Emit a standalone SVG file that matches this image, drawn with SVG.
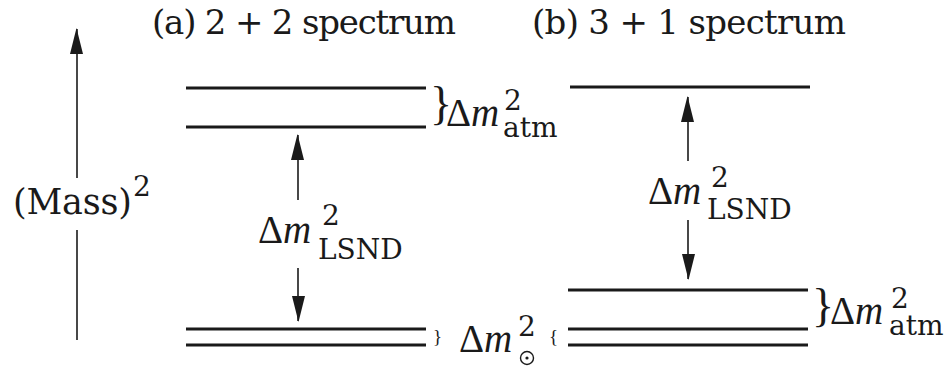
<svg xmlns="http://www.w3.org/2000/svg" width="948" height="368" viewBox="0 0 948 368">
<style>
text{font-family:"DejaVu Serif","Liberation Serif",serif;fill:#1a1a1a}
.t{font-size:34px}
.ms{font-size:35px}
.big{font-family:"Liberation Serif","DejaVu Serif",serif;font-size:39px}
.sm{font-size:28px}
.it{font-style:italic}
.lvl{stroke:#1a1a1a;stroke-width:3}
.ax{stroke:#1a1a1a;stroke-width:1.6;fill:none}
.br{font-family:"Liberation Serif",serif;font-size:46px}
.brs{font-family:"Liberation Serif",serif;font-size:19px}
</style>
<defs>
<marker id="ah" markerUnits="userSpaceOnUse" markerWidth="26" markerHeight="14" refX="25" refY="7" orient="auto">
<path d="M0,0 L26,6.5 L0,13 Z" fill="#1a1a1a"/>
</marker>
</defs>
<g id="titles">
<text class="t" x="152" y="34" textLength="304">(a) 2 + 2 spectrum</text>
<text class="t" x="532" y="34" textLength="314">(b) 3 + 1 spectrum</text>
</g>
<g id="axis">
<line class="ax" x1="77" y1="178" x2="77" y2="29" marker-end="url(#ah)"/>
<line class="ax" x1="77" y1="230" x2="77" y2="340"/>
<text class="ms" x="13" y="214" textLength="119">(Mass)</text>
<text class="sm" x="133" y="196">2</text>
</g>
<g id="spectrum-a">
<line class="lvl" x1="186" y1="88" x2="426" y2="88"/>
<line class="lvl" x1="186" y1="127" x2="426" y2="127"/>
<line class="lvl" x1="186" y1="329" x2="426" y2="329"/>
<line class="lvl" x1="186" y1="345" x2="426" y2="345"/>
<text class="br" x="430" y="119">}</text>
<text class="big" x="446" y="126">Δ<tspan class="it">m</tspan></text>
<text class="sm" x="504" y="110">2</text>
<text class="sm" x="503" y="137">atm</text>
<text class="big" x="258" y="243">Δ<tspan class="it">m</tspan></text>
<text class="sm" x="322" y="225">2</text>
<text class="sm" x="318" y="259">LSND</text>
<text class="brs" x="433" y="343">}</text>
</g>
<g id="solar-label">
<text class="big" x="459" y="352">Δ<tspan class="it">m</tspan></text>
<text class="sm" x="518" y="336">2</text>
<circle cx="527" cy="358" r="6.5" fill="none" stroke="#1a1a1a" stroke-width="1.4"/>
<circle cx="527" cy="358" r="1.6" fill="#1a1a1a"/>
</g>
<g id="spectrum-b">
<line class="lvl" x1="570" y1="87" x2="810" y2="87"/>
<line class="lvl" x1="568" y1="290" x2="808" y2="290"/>
<line class="lvl" x1="568" y1="329" x2="808" y2="329"/>
<line class="lvl" x1="568" y1="345" x2="808" y2="345"/>
<text class="brs" x="549" y="343">{</text>
<text class="br" x="812" y="321">}</text>
<text class="big" x="830" y="324">Δ<tspan class="it">m</tspan></text>
<text class="sm" x="891" y="308">2</text>
<text class="sm" x="889" y="335">atm</text>
<text class="big" x="648" y="204">Δ<tspan class="it">m</tspan></text>
<text class="sm" x="711" y="187">2</text>
<text class="sm" x="707" y="219">LSND</text>
</g>
<g id="connectors">
<line class="ax" x1="298" y1="200" x2="298" y2="135" marker-end="url(#ah)"/>
<line class="ax" x1="298" y1="268" x2="298" y2="321" marker-end="url(#ah)"/>
<line class="ax" x1="688" y1="161" x2="688" y2="97" marker-end="url(#ah)"/>
<line class="ax" x1="688" y1="220" x2="688" y2="279" marker-end="url(#ah)"/>
</g>
</svg>
